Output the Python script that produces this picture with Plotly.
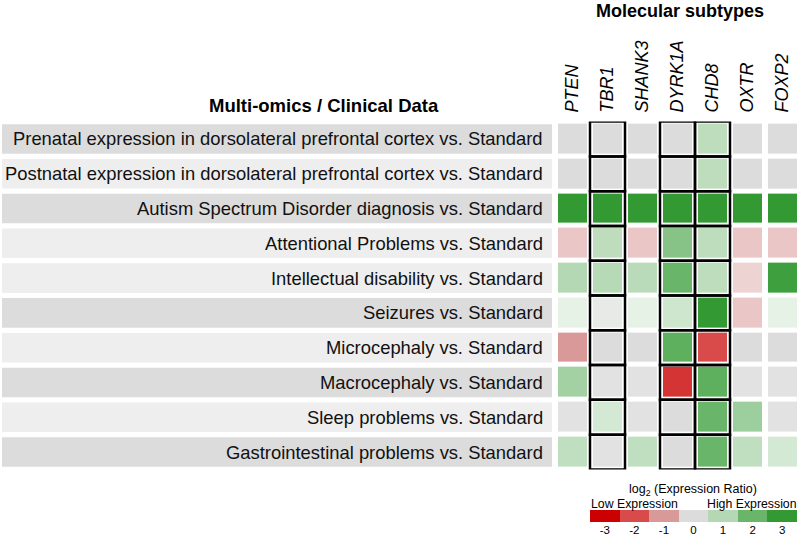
import plotly.graph_objects as go

# rows (clinical comparisons) and columns (genes)
conditions = [
    "Prenatal expression in dorsolateral prefrontal cortex vs. Standard",
    "Postnatal expression in dorsolateral prefrontal cortex vs. Standard",
    "Autism Spectrum Disorder diagnosis vs. Standard",
    "Attentional Problems vs. Standard",
    "Intellectual disability vs. Standard",
    "Seizures vs. Standard",
    "Microcephaly vs. Standard",
    "Macrocephaly vs. Standard",
    "Sleep problems vs. Standard",
    "Gastrointestinal problems vs. Standard",
]
genes = ["PTEN", "TBR1", "SHANK3", "DYRK1A", "CHD8", "OXTR", "FOXP2"]
highlighted = ["TBR1", "DYRK1A", "CHD8"]

# log2 expression ratio (one list per condition)
prenatal = [0, 0, 0, 0, 0.85, 0, 0]
postnatal = [0, 0, 0, 0, 0.85, 0, 0]
asd = [3, 3, 3, 3, 3, 3, 3]
attention = [-0.5, 0.85, -0.5, 1.6, 0.85, -0.5, -0.5]
intellectual = [1.0, 0.95, 0.9, 2.0, 0.85, -0.3, 2.8]
seizures = [0.25, 0.15, 0.25, 0.6, 3, -0.5, 0.25]
microcephaly = [-1.0, 0, 0, 2.2, -2.0, 0, 0]
macrocephaly = [1.2, 0.05, 0.05, -2.3, 2.2, 0.05, 0.05]
sleep = [0.05, 0.5, 0.05, 0, 2.0, 1.3, 0.05]
gastro = [0.8, 0.05, 0.8, 0, 2.0, 0.8, 0.5]

legend_values = [-3, -2, -1, 0, 1, 2, 3]

z = [prenatal, postnatal, asd, attention, intellectual, seizures,
     microcephaly, macrocephaly, sleep, gastro]

# colour scale (value -> colour), normalised for zmin=-3 .. zmax=3
stops = [(-3, "#cc0000"), (-2, "#d94a4a"), (-1, "#da9999"), (-0.5, "#ebc6c6"),
         (-0.15, "#f0dddd"), (0, "#dcdcdc"), (0.1, "#e8e8e8"), (0.25, "#e6f2e6"),
         (0.5, "#d4e9d4"), (1, "#b3d8b3"), (2, "#69b569"), (3, "#339933")]
colorscale = [[(v + 3) / 6, c] for v, c in stops]

dark_rows = [0, 2, 5, 7, 9]
band_colors = ["#dcdcdc" if i in dark_rows else "#eeeeee" for i in range(len(conditions))]

rows = list(range(len(conditions)))
cols = list(range(len(genes)))

fig = go.Figure()

# grey label bands on the left
fig.add_trace(go.Bar(x=[1] * len(rows), y=rows, orientation="h", width=0.85,
                     marker=dict(color=band_colors, line=dict(width=0)),
                     xaxis="x2", yaxis="y", hoverinfo="skip", showlegend=False))

fig.add_trace(go.Heatmap(z=z, x=cols, y=rows, zmin=-3, zmax=3, colorscale=colorscale,
                         xgap=6, ygap=5, showscale=False, xaxis="x", yaxis="y"))

# legend strip
fig.add_trace(go.Heatmap(z=[legend_values], x=legend_values, y=[0], zmin=-3, zmax=3,
                         colorscale=colorscale, showscale=False, xaxis="x3", yaxis="y3",
                         hoverinfo="skip"))

# black boxes round the highlighted genes
for g in highlighted:
    ci = genes.index(g)
    for ri in rows:
        fig.add_shape(type="rect", xref="x", yref="y", x0=ci - 0.5, x1=ci + 0.5,
                      y0=ri - 0.5, y1=ri + 0.5, line=dict(color="black", width=2.5))

for ri, name in zip(rows, conditions):
    fig.add_annotation(text=name, xref="paper", yref="y", x=0.681, y=ri, xanchor="right",
                       yanchor="middle", showarrow=False,
                       font=dict(size=18.4, color="#111111"))

def label(text, x, y, size, xanchor="center"):
    fig.add_annotation(text=text, xref="paper", yref="paper", x=x, y=y, xanchor=xanchor,
                       yanchor="middle", showarrow=False, borderpad=0,
                       font=dict(size=size, color="black"))

label("<b>Molecular subtypes</b>", 0.85, 0.979, 18)
label("<b>Multi-omics / Clinical Data</b>", 0.405, 0.802, 18.5)
label("log<sub>2</sub> (Expression Ratio)", 0.866, 0.085, 12.5)
label("Low Expression", 0.738, 0.058, 12.3, "left")
label("High Expression", 0.998, 0.058, 12.3, "right")

fig.update_layout(
    width=800, height=535,
    margin=dict(l=0, r=0, t=0, b=0),
    paper_bgcolor="white", plot_bgcolor="white",
    font=dict(family="Arial, Liberation Sans, sans-serif", color="black"),
    xaxis=dict(domain=[0.69375, 1], range=[-0.5, 6.5], side="top", tickvals=cols,
               ticktext=["<i>%s</i>" % g for g in genes], tickangle=-90,
               tickfont=dict(size=18), ticks="", ticklabelstandoff=8, automargin=False,
               showgrid=False, zeroline=False, showline=False, anchor="y"),
    yaxis=dict(domain=[0.1226, 0.7727], range=[9.5, -0.5], visible=False, anchor="x",
               automargin=False),
    xaxis2=dict(domain=[0.0025, 0.69], range=[0, 1], visible=False, anchor="y",
                automargin=False),
    xaxis3=dict(domain=[0.7375, 0.99625], range=[-3.5, 3.5], tickvals=legend_values,
                ticktext=[str(v) for v in legend_values],
                ticks="", tickfont=dict(size=11.5), ticklabelstandoff=0, automargin=False,
                showgrid=False, zeroline=False, showline=False, anchor="y3"),
    yaxis3=dict(domain=[0.0243, 0.0467], visible=False, anchor="x3", automargin=False),
)

# page body has a default 8px margin; drop it so the figure sits at the window corner
fig.write_html("out.html", config={"displayModeBar": False},
               post_script="document.body.style.margin='0px';")
